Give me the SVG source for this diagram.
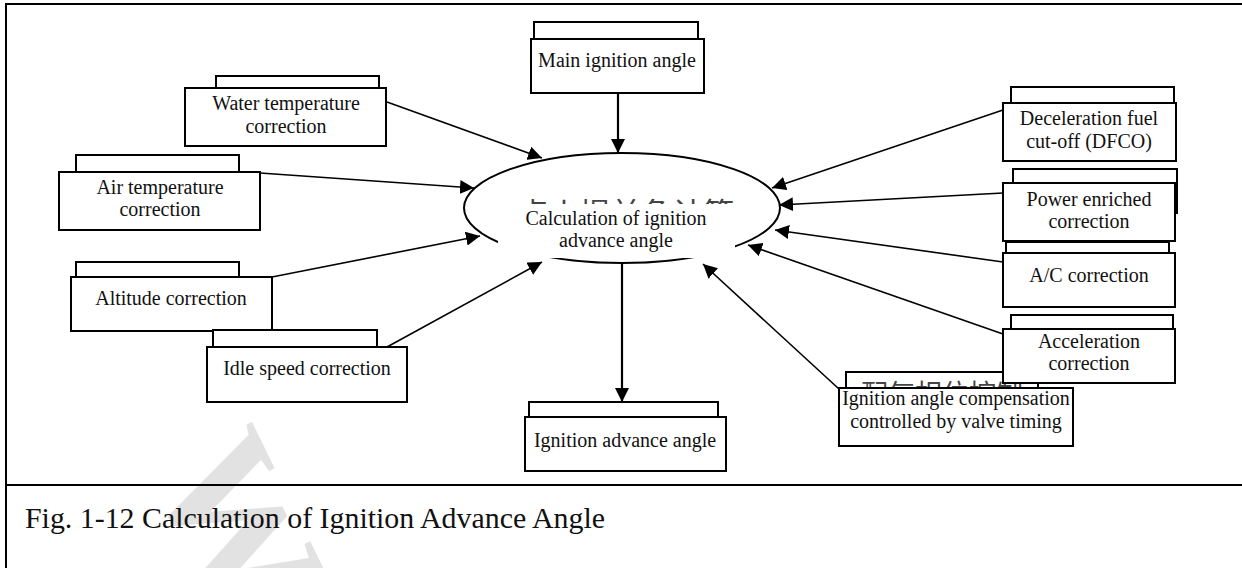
<svg xmlns="http://www.w3.org/2000/svg" width="1242" height="568" viewBox="0 0 1242 568">
  <style>
    .frame { fill: none; stroke: #000; stroke-width: 2; }
    .box { fill: #fff; stroke: #000; stroke-width: 2; }
    .lbl { font-family: "Liberation Serif", "Times New Roman", serif; font-size: 20px; fill: #111; text-anchor: middle; }
    .cjk { font-family: "Noto Sans CJK SC", "Liberation Serif", sans-serif; font-size: 28px; fill: #444; text-anchor: middle; }
    .link { fill: none; stroke: #000; stroke-width: 1.6; marker-end: url(#head); }
    .trunk { fill: none; stroke: #000; stroke-width: 2.2; marker-end: url(#head); }
    .caption { font-family: "Liberation Serif", "Times New Roman", serif; font-size: 29px; fill: #111; }
    .mark { font-family: "Liberation Serif", serif; font-weight: bold; font-size: 175px; fill: #e2e2e2; }
  </style>
  <defs>
    <marker id="head" markerUnits="userSpaceOnUse" markerWidth="15" markerHeight="14" refX="14" refY="7" orient="auto">
      <path d="M0,0 L14,7 L0,14 Z" fill="#000"/>
    </marker>
  </defs>

  <rect width="1242" height="568" fill="#fff"/>

  <!-- background watermark -->
  <text class="mark" x="0" y="0" transform="translate(148,470) rotate(64)">W</text>

  <!-- page frame and caption rule -->
  <g id="frame">
    <polyline class="frame" points="1244,4 6,4 6,570"/>
    <line class="frame" x1="6" y1="485" x2="1244" y2="485"/>
  </g>

  <g id="caption">
    <text class="caption" x="25" y="528" textLength="580" lengthAdjust="spacingAndGlyphs">Fig. 1-12 Calculation of Ignition Advance Angle</text>
  </g>

  <!-- connectors -->
  <g id="connectors">
    <line class="trunk" x1="618" y1="93" x2="618" y2="153"/>
    <line class="trunk" x1="622" y1="262" x2="622" y2="402"/>
    <line class="link" x1="387" y1="102" x2="542" y2="158"/>
    <line class="link" x1="260" y1="173" x2="474" y2="188"/>
    <line class="link" x1="272" y1="277" x2="480" y2="236"/>
    <line class="link" x1="387" y1="347" x2="542" y2="262"/>
    <line class="link" x1="1003" y1="110" x2="772" y2="188"/>
    <line class="link" x1="1003" y1="193" x2="779" y2="205"/>
    <line class="link" x1="1003" y1="262" x2="775" y2="230"/>
    <line class="link" x1="1003" y1="334" x2="748" y2="245"/>
    <line class="link" x1="839" y1="389" x2="703" y2="264"/>
  </g>

  <!-- central calculation node -->
  <g id="calc">
    <ellipse class="box" cx="622" cy="208" rx="158" ry="55"/>
    <text class="cjk" x="626" y="225" style="font-size:31px">点火提前角计算</text>
    <rect x="498" y="204" width="237" height="54" fill="#fff"/>
    <text class="lbl" x="616" y="225">Calculation of ignition</text>
    <text class="lbl" x="616" y="247">advance angle</text>
  </g>

  <g id="main-angle">
    <rect class="box" x="534" y="22" width="164" height="24"/>
    <rect class="box" x="531" y="39" width="173" height="54"/>
    <text class="lbl" x="617" y="67">Main ignition angle</text>
  </g>

  <g id="water-temp">
    <rect class="box" x="216" y="76" width="163" height="20"/>
    <rect class="box" x="185" y="88" width="201" height="58"/>
    <text class="lbl" x="286" y="110">Water temperature</text>
    <text class="lbl" x="286" y="133">correction</text>
  </g>

  <g id="air-temp">
    <rect class="box" x="76" y="155" width="163" height="24"/>
    <rect class="box" x="59" y="172" width="201" height="58"/>
    <text class="lbl" x="160" y="194">Air temperature</text>
    <text class="lbl" x="160" y="216">correction</text>
  </g>

  <g id="altitude">
    <rect class="box" x="76" y="262" width="163" height="24"/>
    <rect class="box" x="71" y="277" width="201" height="54"/>
    <text class="lbl" x="171" y="305">Altitude correction</text>
  </g>

  <g id="idle-speed">
    <rect class="box" x="213" y="330" width="164" height="24"/>
    <rect class="box" x="207" y="347" width="200" height="55"/>
    <text class="lbl" x="307" y="375">Idle speed correction</text>
  </g>

  <g id="advance-angle">
    <rect class="box" x="529" y="402" width="189" height="24"/>
    <rect class="box" x="525" y="417" width="201" height="54"/>
    <text class="lbl" x="625" y="447">Ignition advance angle</text>
  </g>

  <g id="dfco">
    <rect class="box" x="1011" y="87" width="163" height="24"/>
    <rect class="box" x="1003" y="103" width="173" height="58"/>
    <text class="lbl" x="1089" y="125">Deceleration fuel</text>
    <text class="lbl" x="1089" y="148">cut-off (DFCO)</text>
  </g>

  <g id="power-enriched">
    <rect class="box" x="1013" y="169" width="164" height="44"/>
    <rect class="box" x="1003" y="183" width="172" height="58"/>
    <text class="lbl" x="1089" y="206">Power enriched</text>
    <text class="lbl" x="1089" y="228">correction</text>
  </g>

  <g id="ac">
    <rect class="box" x="1006" y="242" width="163" height="20"/>
    <rect class="box" x="1003" y="253" width="172" height="54"/>
    <text class="lbl" x="1089" y="282">A/C correction</text>
  </g>

  <!-- valve timing compensation: back tab sits under the acceleration box -->
  <g id="valve-timing-tab">
    <rect class="box" x="846" y="372" width="192" height="30"/>
    <text class="cjk" x="942" y="404" style="font-size:27px">配气相位控制</text>
  </g>

  <g id="acceleration">
    <rect class="box" x="1011" y="315" width="162" height="24"/>
    <rect class="box" x="1003" y="329" width="172" height="54"/>
    <text class="lbl" x="1089" y="348">Acceleration</text>
    <text class="lbl" x="1089" y="370">correction</text>
  </g>

  <g id="valve-timing">
    <rect class="box" x="839" y="388" width="234" height="58"/>
    <text class="lbl" x="956" y="405">Ignition angle compensation</text>
    <text class="lbl" x="956" y="428">controlled by valve timing</text>
  </g>
</svg>
